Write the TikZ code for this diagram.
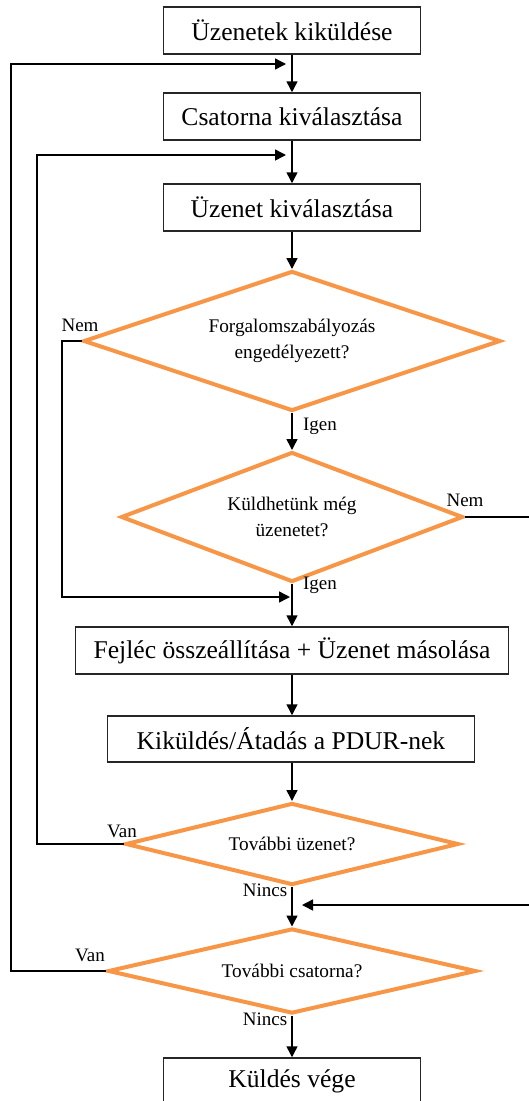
\documentclass[tikz,border=0pt]{standalone}
\usepackage{fontspec}
\setmainfont{Liberation Serif}
\usetikzlibrary{shapes.geometric,arrows.meta}
\definecolor{dorange}{RGB}{247,150,70}
\begin{document}
\begin{tikzpicture}[x=1pt,y=-1pt,
 box/.style={draw=black!85,line width=1.5pt,minimum height=47pt,inner sep=0pt,font=\fontsize{25.6}{30}\selectfont},
 dec/.style={draw=dorange,line width=4pt,shape=diamond,inner sep=0pt,align=center,font=\fontsize{19.3}{25.5}\selectfont},
 lbl/.style={font=\fontsize{19}{22}\selectfont,inner sep=0pt},
 arr/.style={line width=1.5pt,-{Triangle[length=11pt,width=11pt]}}]
\useasboundingbox (0,0) rectangle (528,1101);
\node[box,minimum width=257pt] (b1) at (292,30.5) {Üzenetek kiküldése};
\node[box,minimum width=257pt] (b2) at (292,116.5) {Csatorna kiválasztása};
\node[box,minimum width=257pt] (b3) at (292,207.5) {Üzenet kiválasztása};
\node[dec,minimum width=417pt,minimum height=140pt,aspect=2.98] (d1) at (292,341) {Forgalomszabályozás\\engedélyezett?};
\node[dec,minimum width=342pt,minimum height=130pt,aspect=2.63] (d2) at (292,517) {Küldhetünk még\\üzenetet?};
\node[box,minimum width=433pt] (b4) at (292,650.5) {Fejléc összeállítása + Üzenet másolása};
\node[box,minimum width=367pt,minimum height=46pt] (b5) at (291,739) {Kiküldés/Átadás a PDUR-nek};
\node[dec,minimum width=333pt,minimum height=82pt,aspect=4] (d3) at (292,844) {További üzenet?};
\node[dec,minimum width=368pt,minimum height=85pt,aspect=4.3] (d4) at (292,971) {További csatorna?};
\node[box,minimum width=257pt] (b6) at (292,1081.5) {Küldés vége};
\coordinate (m1) at (292,64);
\coordinate (m2) at (292,155);
\coordinate (m3) at (292,597);
\coordinate (m4) at (292,905);
\draw[arr] (b1.south) -- (b2.north);
\draw[arr] (b2.south) -- (b3.north);
\draw[arr] (b3.south) -- (d1.north);
\draw[arr] (d1.south) -- (d2.north);
\draw[arr] (d2.south) -- (b4.north);
\draw[arr] (b4.south) -- (b5.north -| b4.south);
\draw[arr] (b5.south -| d3.north) -- (d3.north);
\draw[arr] (d3.south) -- (d4.north);
\draw[arr] (d4.south) -- (b6.north);
\draw[arr] (d4.west) -- ++(-95,0) |- ([xshift=-6pt]m1);
\draw[arr] (d3.west) -- ++(-86.5,0) |- ([xshift=-6pt]m2);
\draw[arr] (d1.west) -- ++(-19.5,0) |- ([xshift=-2pt]m3);
\draw[arr] (d2.east) -- ++(80,0) |- ([xshift=10pt]m4);
\node[lbl] (l1) at (80,325) {Nem};
\node[lbl] (l2) at (320,426) {Igen};
\node[lbl] (l3) at (465,500) {Nem};
\node[lbl] (l4) at (320,585) {Igen};
\node[lbl] (l5) at (122,831) {Van};
\node[lbl] (l6) at (265,890) {Nincs};
\node[lbl] (l7) at (90,955) {Van};
\node[lbl] (l8) at (265,1019) {Nincs};
\end{tikzpicture}
\end{document}
